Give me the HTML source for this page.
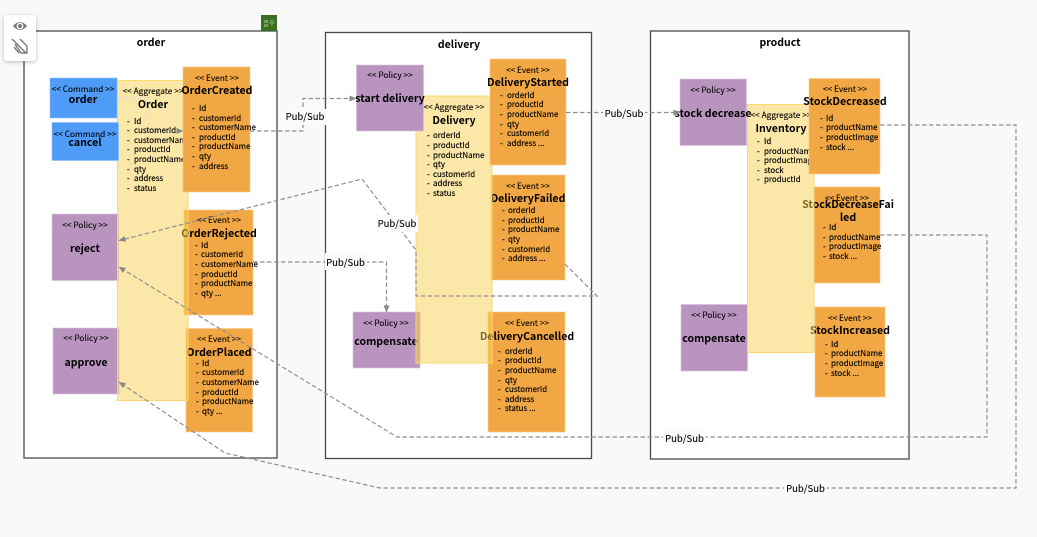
<!DOCTYPE html>
<html lang="en"><head><meta charset="utf-8"><title>Diagram</title>
<style>
html,body{margin:0;padding:0;width:1037px;height:537px;background:#f9f9f9;overflow:hidden}
svg{display:block}
svg text{font-family:"Noto Sans CJK KR","Noto Sans CJK JP",sans-serif;fill:#000}
.s{font-size:8.3px;text-anchor:middle;stroke:#000;stroke-width:.1}
.t{font-size:10.6px;font-weight:700;text-anchor:middle}
.n{font-size:10.6px;font-weight:700;text-anchor:middle}
.f{font-size:10.5px;font-weight:700;text-anchor:middle}
.i{font-size:7.95px;stroke:#000;stroke-width:.15}
.l{font-size:9.5px;text-anchor:middle;stroke:#000;stroke-width:.1}
.frame{fill:#fff;stroke:#4a4a4a;stroke-width:1.3}
.ev{fill:#f2a745;stroke:#f7c98c;stroke-width:.6}
.po{fill:#b994bf;stroke:#d8c2dc;stroke-width:.6}
.cm{fill:#4f9bf8;stroke:#8dbffa;stroke-width:.6}
.ag{fill:#f7cf4f;fill-opacity:.5;stroke:#fbd96e;stroke-width:1}
.c{fill:none;stroke:#8f8f8f;stroke-width:1.2;stroke-dasharray:4.500 2.500}
.lb{fill:#fafafa}
.tool{filter:drop-shadow(0 1px 2px rgba(0,0,0,.25))}
</style></head>
<body>
<svg width="1037" height="537" viewBox="0 0 1037 537" xmlns="http://www.w3.org/2000/svg">
<defs><marker id="a" markerWidth="8" markerHeight="8" refX="6.500" refY="3" orient="auto" markerUnits="userSpaceOnUse"><path d="M0 0L7 3L0 6z" fill="#8a8a8a"/></marker></defs>

<rect class="frame" x="24" y="31" width="253" height="427"/>
<rect class="frame" x="325.500" y="32.500" width="266" height="426"/>
<rect class="frame" x="650.500" y="31" width="258.500" height="428"/>
<rect x="261" y="15" width="16" height="16" fill="#3a6e21"/>
<text x="269" y="25.500" style="font-size:6.500px;fill:#b9cfae;text-anchor:middle">클주</text>

<rect class="tool" x="4" y="15" width="32" height="46" rx="3" fill="#fff"/>
<path d="M13 26Q20 18 27 26Q20 34 13 26z" fill="#777"/><circle cx="20" cy="26" r="3.400" fill="#fff"/><circle cx="20" cy="26" r="2" fill="#777"/>
<path d="M12 39L26 53M15 44L21 53H27V46L20 39M14 47L19 53" fill="none" stroke="#777" stroke-width="1.400"/>

<!-- shapes behind aggregates -->
<rect class="ev" x="184" y="210" width="69" height="105"/>
<text class="s" x="219" y="223">&lt;&lt; Event &gt;&gt;</text><text class="t" x="219" y="237">OrderRejected</text>
<rect class="ev" x="186" y="328.500" width="66.500" height="103.500"/>
<text class="s" x="219" y="342">&lt;&lt; Event &gt;&gt;</text><text class="t" x="219" y="356">OrderPlaced</text>
<rect class="ev" x="488" y="312" width="77" height="120"/>
<text class="s" x="527" y="326">&lt;&lt; Event &gt;&gt;</text><text class="t" x="527" y="340">DeliveryCancelled</text>
<rect class="ev" x="491" y="175" width="74" height="105"/>
<text class="s" x="528" y="189">&lt;&lt; Event &gt;&gt;</text><text class="t" x="528" y="202">DeliveryFailed</text>
<rect class="ev" x="814" y="187" width="66" height="96"/>
<text class="s" x="847" y="201">&lt;&lt; Event &gt;&gt;</text><text class="t" x="848" y="208">StockDecreaseFai</text><text class="t" x="848" y="221">led</text>
<rect class="ev" x="815" y="307" width="70" height="90"/>
<text class="s" x="850" y="321">&lt;&lt; Event &gt;&gt;</text><text class="t" x="850" y="334">StockIncreased</text>
<rect class="po" x="52" y="214" width="66.500" height="66.500"/>
<text class="s" x="85" y="228">&lt;&lt; Policy &gt;&gt;</text><text class="n" x="85" y="252">reject</text>
<rect class="po" x="53" y="328" width="66" height="66"/>
<text class="s" x="86" y="341">&lt;&lt; Policy &gt;&gt;</text><text class="n" x="86" y="366">approve</text>
<rect class="po" x="353" y="312" width="67" height="56"/>
<text class="s" x="386" y="326">&lt;&lt; Policy &gt;&gt;</text><text class="n" x="386" y="345">compensate</text>
<rect class="po" x="681" y="304.500" width="66.500" height="66.500"/>
<text class="s" x="714" y="318">&lt;&lt; Policy &gt;&gt;</text><text class="n" x="714" y="342">compensate</text>

<!-- aggregates -->
<rect class="ag" x="117.500" y="80.500" width="70.500" height="320"/>
<rect class="ag" x="416" y="96" width="76" height="267"/>
<rect class="ag" x="747.500" y="104.500" width="66.500" height="248"/>
<path d="M117 98H149V131H183" class="c" style="stroke:#ddd" marker-end="url(#a)"/>

<text class="s" x="153" y="94">&lt;&lt; Aggregate &gt;&gt;</text><text class="t" x="153" y="108">Order</text>
<text class="i" x="127" y="124">-</text><text class="i" x="134" y="124">Id</text>
<text class="i" x="127" y="133">-</text><text class="i" x="134" y="133">customerId</text>
<text class="i" x="127" y="143">-</text><text class="i" x="134" y="143">customerName</text>
<text class="i" x="127" y="152">-</text><text class="i" x="134" y="152">productId</text>
<text class="i" x="127" y="162">-</text><text class="i" x="134" y="162">productName</text>
<text class="i" x="127" y="172">-</text><text class="i" x="134" y="172">qty</text>
<text class="i" x="127" y="181">-</text><text class="i" x="134" y="181">address</text>
<text class="i" x="127" y="191">-</text><text class="i" x="134" y="191">status</text>

<text class="s" x="454" y="110">&lt;&lt; Aggregate &gt;&gt;</text><text class="t" x="454" y="124">Delivery</text>
<text class="i" x="427" y="138">-</text><text class="i" x="433" y="138">orderId</text>
<text class="i" x="427" y="148">-</text><text class="i" x="433" y="148">productId</text>
<text class="i" x="427" y="158">-</text><text class="i" x="433" y="158">productName</text>
<text class="i" x="427" y="167">-</text><text class="i" x="433" y="167">qty</text>
<text class="i" x="427" y="177">-</text><text class="i" x="433" y="177">customerId</text>
<text class="i" x="427" y="186">-</text><text class="i" x="433" y="186">address</text>
<text class="i" x="427" y="196">-</text><text class="i" x="433" y="196">status</text>

<text class="s" x="781" y="118">&lt;&lt; Aggregate &gt;&gt;</text><text class="t" x="781" y="132">Inventory</text>
<text class="i" x="757" y="144">-</text><text class="i" x="764" y="144">Id</text>
<text class="i" x="757" y="154">-</text><text class="i" x="764" y="154">productName</text>
<text class="i" x="757" y="163">-</text><text class="i" x="764" y="163">productImage</text>
<text class="i" x="757" y="173">-</text><text class="i" x="764" y="173">stock</text>
<text class="i" x="757" y="182">-</text><text class="i" x="764" y="182">productId</text>

<!-- list text over lower events -->
<text class="i" x="195" y="248">-</text><text class="i" x="201" y="248">Id</text>
<text class="i" x="195" y="257">-</text><text class="i" x="201" y="257">customerId</text>
<text class="i" x="195" y="267">-</text><text class="i" x="201" y="267">customerName</text>
<text class="i" x="195" y="277">-</text><text class="i" x="201" y="277">productId</text>
<text class="i" x="195" y="286">-</text><text class="i" x="201" y="286">productName</text>
<text class="i" x="195" y="296">-</text><text class="i" x="201" y="296">qty ...</text>

<text class="i" x="196" y="366">-</text><text class="i" x="202" y="366">Id</text>
<text class="i" x="196" y="375">-</text><text class="i" x="202" y="375">customerId</text>
<text class="i" x="196" y="385">-</text><text class="i" x="202" y="385">customerName</text>
<text class="i" x="196" y="395">-</text><text class="i" x="202" y="395">productId</text>
<text class="i" x="196" y="404">-</text><text class="i" x="202" y="404">productName</text>
<text class="i" x="196" y="414">-</text><text class="i" x="202" y="414">qty ...</text>

<text class="i" x="498" y="354">-</text><text class="i" x="505" y="354">orderId</text>
<text class="i" x="498" y="363">-</text><text class="i" x="505" y="363">productId</text>
<text class="i" x="498" y="373">-</text><text class="i" x="505" y="373">productName</text>
<text class="i" x="498" y="383">-</text><text class="i" x="505" y="383">qty</text>
<text class="i" x="498" y="392">-</text><text class="i" x="505" y="392">customerId</text>
<text class="i" x="498" y="402">-</text><text class="i" x="505" y="402">address</text>
<text class="i" x="498" y="411">-</text><text class="i" x="505" y="411">status ...</text>

<text class="i" x="502" y="213">-</text><text class="i" x="508" y="213">orderId</text>
<text class="i" x="502" y="223">-</text><text class="i" x="508" y="223">productId</text>
<text class="i" x="502" y="232">-</text><text class="i" x="508" y="232">productName</text>
<text class="i" x="502" y="242">-</text><text class="i" x="508" y="242">qty</text>
<text class="i" x="502" y="252">-</text><text class="i" x="508" y="252">customerId</text>
<text class="i" x="502" y="261">-</text><text class="i" x="508" y="261">address ...</text>

<text class="i" x="823" y="230">-</text><text class="i" x="829" y="230">Id</text>
<text class="i" x="823" y="240">-</text><text class="i" x="829" y="240">productName</text>
<text class="i" x="823" y="249">-</text><text class="i" x="829" y="249">productImage</text>
<text class="i" x="823" y="259">-</text><text class="i" x="829" y="259">stock ...</text>

<text class="i" x="825" y="347">-</text><text class="i" x="831" y="347">Id</text>
<text class="i" x="825" y="356">-</text><text class="i" x="831" y="356">productName</text>
<text class="i" x="825" y="366">-</text><text class="i" x="831" y="366">productImage</text>
<text class="i" x="825" y="376">-</text><text class="i" x="831" y="376">stock ...</text>

<!-- top events -->
<rect class="ev" x="183" y="67" width="67" height="125"/>
<text class="s" x="217" y="81">&lt;&lt; Event &gt;&gt;</text><text class="t" x="217" y="94">OrderCreated</text>
<text class="i" x="192" y="111">-</text><text class="i" x="199" y="111">Id</text>
<text class="i" x="192" y="121">-</text><text class="i" x="199" y="121">customerId</text>
<text class="i" x="192" y="130">-</text><text class="i" x="199" y="130">customerName</text>
<text class="i" x="192" y="140">-</text><text class="i" x="199" y="140">productId</text>
<text class="i" x="192" y="149">-</text><text class="i" x="199" y="149">productName</text>
<text class="i" x="192" y="159">-</text><text class="i" x="199" y="159">qty</text>
<text class="i" x="192" y="169">-</text><text class="i" x="199" y="169">address</text>

<rect class="ev" x="490" y="59" width="76" height="106"/>
<text class="s" x="528" y="73">&lt;&lt; Event &gt;&gt;</text><text class="t" x="528" y="86">DeliveryStarted</text>
<text class="i" x="500" y="98">-</text><text class="i" x="507" y="98">orderId</text>
<text class="i" x="500" y="107">-</text><text class="i" x="507" y="107">productId</text>
<text class="i" x="500" y="117">-</text><text class="i" x="507" y="117">productName</text>
<text class="i" x="500" y="127">-</text><text class="i" x="507" y="127">qty</text>
<text class="i" x="500" y="136">-</text><text class="i" x="507" y="136">customerId</text>
<text class="i" x="500" y="146">-</text><text class="i" x="507" y="146">address ...</text>

<rect class="ev" x="809" y="78.500" width="71" height="95.500"/>
<text class="s" x="845" y="92">&lt;&lt; Event &gt;&gt;</text><text class="t" x="845" y="105">StockDecreased</text>
<text class="i" x="820" y="121">-</text><text class="i" x="826" y="121">Id</text>
<text class="i" x="820" y="130">-</text><text class="i" x="826" y="130">productName</text>
<text class="i" x="820" y="140">-</text><text class="i" x="826" y="140">productImage</text>
<text class="i" x="820" y="150">-</text><text class="i" x="826" y="150">stock ...</text>

<!-- commands & top policies -->
<rect class="cm" x="50" y="78" width="67" height="40"/>
<text class="s" x="83" y="92">&lt;&lt; Command &gt;&gt;</text><text class="n" x="83" y="103">order</text>
<rect class="cm" x="52" y="122.500" width="66.500" height="38"/>
<text class="s" x="85" y="137">&lt;&lt; Command &gt;&gt;</text><text class="n" x="85" y="146">cancel</text>
<rect class="po" x="356.500" y="65" width="67" height="66"/>
<text class="s" x="390" y="78">&lt;&lt; Policy &gt;&gt;</text><text class="n" x="390" y="102">start delivery</text>
<rect class="po" x="680" y="79" width="66.500" height="66.500"/>
<text class="s" x="713" y="93">&lt;&lt; Policy &gt;&gt;</text><text class="n" x="713" y="117">stock decrease</text>

<text class="f" x="151" y="46">order</text>
<text class="f" x="459" y="48">delivery</text>
<text class="f" x="780" y="46">product</text>

<!-- connectors -->
<path d="M250 131H303V98.500H356" class="c" marker-end="url(#a)"/>
<path d="M566 112.500H680" class="c" marker-end="url(#a)"/>
<path d="M253 262H386.500V312" class="c" marker-end="url(#a)"/>
<path d="M565 264L597 296H416V250L362 179L119 240.500" class="c" marker-end="url(#a)"/>
<path d="M880 235H987V437H397L119 267" class="c" marker-end="url(#a)"/>
<path d="M880 125H1016V488H380L225 453L119 382" class="c" marker-end="url(#a)"/>

<rect class="lb" x="284" y="109" width="43" height="16"/><text class="l" x="305" y="120">Pub/Sub</text>
<rect class="lb" x="603" y="106" width="42" height="15"/><text class="l" x="624" y="117">Pub/Sub</text>
<rect class="lb" x="376" y="215" width="42" height="17"/><text class="l" x="397" y="227">Pub/Sub</text>
<rect class="lb" x="325" y="253" width="42" height="17"/><text class="l" x="345.500" y="266">Pub/Sub</text>
<rect class="lb" x="663" y="429" width="43" height="17"/><text class="l" x="684.500" y="442">Pub/Sub</text>
<rect class="lb" x="784" y="480" width="43" height="16"/><text class="l" x="805.500" y="492">Pub/Sub</text>
</svg>
</body></html>
